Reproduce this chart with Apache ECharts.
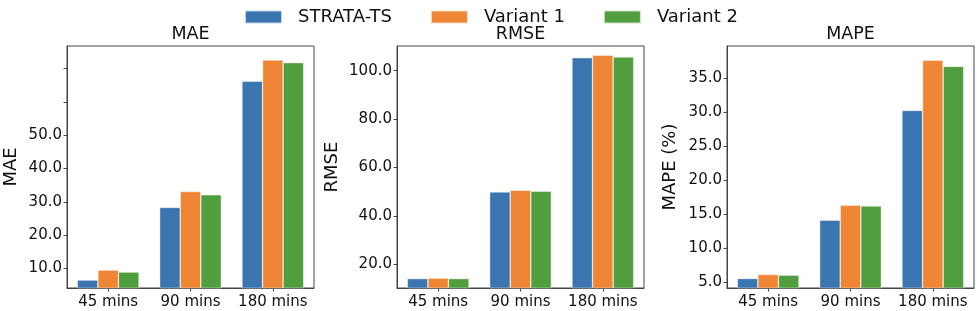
<!DOCTYPE html>
<html>
<head>
<meta charset="utf-8">
<script src="https://cdn.jsdelivr.net/npm/echarts@6/dist/echarts.min.js"></script>
<style>
html,body{margin:0;padding:0;background:#fff;}
#chart{width:977px;height:311px;}
</style>
</head>
<body>
<div id="chart"></div>
<script>
var categories = ['45 mins', '90 mins', '180 mins'];
var seriesNames = ['STRATA-TS', 'Variant 1', 'Variant 2'];

var maeStrata = [6.5, 28.3, 66.2];
var maeV1 = [9.5, 33.1, 72.6];
var maeV2 = [8.9, 32.1, 71.8];

var rmseStrata = [14.1, 49.9, 105.4];
var rmseV1 = [14.3, 50.6, 106.4];
var rmseV2 = [14.1, 50.2, 105.7];

var mapeStrata = [5.5, 14.1, 30.3];
var mapeV1 = [6.1, 16.3, 37.7];
var mapeV2 = [6.0, 16.2, 36.8];

var maeTickLabels = [10, 20, 30, 40, 50];
var maeTicks = [10, 20, 30, 40, 50, 60, 70];
var rmseTicks = [20, 40, 60, 80, 100];
var mapeTicks = [5, 10, 15, 20, 25, 30, 35];

var panels = [
  {title: 'MAE', yName: 'MAE', data: [maeStrata, maeV1, maeV2], min: 4.1, max: 76.8, labels: maeTickLabels, ticks: maeTicks, left: 67, nameGap: 47},
  {title: 'RMSE', yName: 'RMSE', data: [rmseStrata, rmseV1, rmseV2], min: 10.2, max: 110.2, labels: rmseTicks, ticks: rmseTicks, left: 397, nameGap: 56},
  {title: 'MAPE', yName: 'MAPE (%)', data: [mapeStrata, mapeV1, mapeV2], min: 4.1, max: 39.8, labels: mapeTicks, ticks: mapeTicks, left: 727, nameGap: 48}
];
var colors = ['#3a75b0', '#ef8636', '#509e3e'];
var font = 'DejaVu Sans';
var textColor = '#111';
var gridW = 247;

var grids = [], xAxes = [], yAxes = [], titles = [], series = [];
panels.forEach(function (p, i) {
  grids.push({left: p.left, width: gridW, top: 46, bottom: 23, show: true, borderColor: '#444', borderWidth: 1, backgroundColor: 'transparent'});
  titles.push({text: p.title, left: p.left + gridW / 2, top: 25, textAlign: 'center', padding: 0,
    textStyle: {fontFamily: font, fontSize: 17.5, fontWeight: 'normal', color: textColor}});
  xAxes.push({type: 'category', gridIndex: i, data: categories, boundaryGap: true,
    axisLine: {show: true, lineStyle: {color: '#444', width: 1}},
    axisTick: {show: true, alignWithLabel: true, length: 3.5, lineStyle: {color: '#444'}},
    axisLabel: {fontFamily: font, fontSize: 15, color: textColor, margin: 7, interval: 0},
    splitLine: {show: false}});
  yAxes.push({type: 'value', gridIndex: i, min: p.min, max: p.max,
    name: p.yName, nameLocation: 'middle', nameGap: p.nameGap, nameRotate: 90,
    nameTextStyle: {fontFamily: font, fontSize: 18, color: textColor},
    axisLine: {show: true, lineStyle: {color: '#444', width: 1}},
    axisTick: {show: true, length: 3.5, customValues: p.ticks, lineStyle: {color: '#444'}},
    axisLabel: {fontFamily: font, fontSize: 15, color: textColor, margin: 5, customValues: p.labels,
      formatter: function (v) { return Number(v).toFixed(1); }},
    splitLine: {show: false}});
  p.data.forEach(function (d, k) {
    series.push({type: 'bar', name: seriesNames[k], xAxisIndex: i, yAxisIndex: i, data: d,
      barWidth: '25%', barGap: '0%',
      itemStyle: {color: colors[k], borderColor: 'rgba(255,255,255,0.7)', borderWidth: 0.6},
      emphasis: {disabled: true}, animation: false});
  });
});

var chart = echarts.init(document.getElementById('chart'), null, {renderer: 'canvas'});
chart.setOption({
  animation: false,
  title: titles,
  legend: {data: seriesNames, left: 244, top: 8, padding: 0, itemWidth: 37, itemHeight: 13, itemGap: 38,
    icon: 'rect',
    textStyle: {fontFamily: font, fontSize: 18, color: textColor, padding: [0, 0, 0, 11]}},
  grid: grids,
  xAxis: xAxes,
  yAxis: yAxes,
  series: series
});
</script>
</body>
</html>
